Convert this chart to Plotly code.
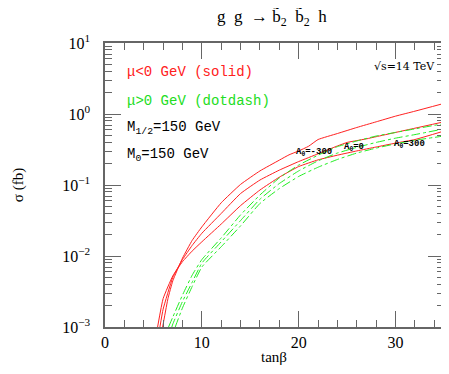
import plotly.graph_objects as go

# red solid curves (mu < 0)
tb_m300 = [5.95, 6.5, 7, 8, 9, 10, 12, 14, 16, 18, 19, 20, 21, 22, 24, 26, 28, 30, 32, 35]
sig_m300 = [0.001, 0.00251, 0.00447, 0.00933, 0.0166, 0.0257, 0.0562, 0.102, 0.158, 0.224,
            0.266, 0.302, 0.350, 0.437, 0.531, 0.646, 0.776, 0.933, 1.096, 1.41]
tb_0 = [5.67, 6, 7, 8, 9, 10, 12, 14, 16, 18, 20, 22, 24, 25, 26, 27, 28, 30, 32, 35]
sig_0 = [0.001, 0.00178, 0.00501, 0.00891, 0.0141, 0.0209, 0.0398, 0.0759, 0.1175, 0.162,
         0.214, 0.275, 0.355, 0.398, 0.422, 0.447, 0.479, 0.550, 0.631, 0.776]
tb_p300 = [5.43, 6, 7, 8, 9, 10, 12, 14, 16, 18, 20, 22, 24, 26, 28, 30, 32, 35]
sig_p300 = [0.001, 0.00251, 0.00525, 0.00832, 0.01175, 0.01585, 0.0282, 0.0513, 0.0851, 0.129,
            0.182, 0.226, 0.263, 0.302, 0.343, 0.389, 0.437, 0.575]

# green dotdash curves (mu > 0)
tb_g1 = [6.56, 7, 8, 9, 10, 12, 14, 16, 18, 20, 22, 24, 26, 28, 30, 32, 35]
sig_g1 = [0.001, 0.00138, 0.00282, 0.00537, 0.00891, 0.0180, 0.0380, 0.0724, 0.126, 0.191,
          0.263, 0.347, 0.417, 0.490, 0.550, 0.617, 0.733]
tb_g2 = [6.9, 7, 8, 9, 10, 12, 14, 16, 18, 20, 22, 24, 26, 28, 30, 32, 35]
sig_g2 = [0.001, 0.0011, 0.00229, 0.00427, 0.00794, 0.01585, 0.0316, 0.0631, 0.105, 0.158,
          0.219, 0.282, 0.339, 0.398, 0.457, 0.513, 0.617]
tb_g3 = [7.25, 8, 9, 10, 12, 14, 16, 18, 20, 22, 24, 26, 28, 30, 32, 35]
sig_g3 = [0.001, 0.00186, 0.00372, 0.0070, 0.0135, 0.0266, 0.0550, 0.0891, 0.132, 0.178,
          0.229, 0.282, 0.331, 0.380, 0.427, 0.490]

y_tickvals = [0.001, 0.01, 0.1, 1, 10]
y_ticktext = ['10<sup>−3</sup>', '10<sup>−2</sup>', '10<sup>−1</sup>', '10<sup>0</sup>', '10<sup>1</sup>']
x_tickvals = [0, 10, 20, 30]

# page body has an 8px margin, so the figure is placed at (8, 8) in the window
OFF = 8
W, H = 441, 358
L, R, T, B = 105 - OFF, 444.5 - OFF, 43 - OFF, 327 - OFF


def px(x, y):
    # window pixel -> paper coords
    return (x - OFF - L) / (R - L), (B - (y - OFF)) / (B - T)


fig = go.Figure()

for xs, ys in [(tb_m300, sig_m300), (tb_0, sig_0), (tb_p300, sig_p300)]:
    fig.add_trace(go.Scatter(x=xs, y=ys, mode='lines',
                             line=dict(color='#ff2020', width=1, shape='spline', smoothing=0.4),
                             showlegend=False))
for xs, ys in [(tb_g1, sig_g1), (tb_g2, sig_g2), (tb_g3, sig_g3)]:
    fig.add_trace(go.Scatter(x=xs, y=ys, mode='lines',
                             line=dict(color='#22ee22', width=1, dash='dashdot',
                                       shape='spline', smoothing=0.4),
                             showlegend=False))
# empty trace so the mirrored frame axes (top / right) get drawn
fig.add_trace(go.Scatter(x=[None], y=[None], xaxis='x2', yaxis='y2', showlegend=False))

axcol = '#666666'
xcommon = dict(range=[0, 35], tickvals=x_tickvals, ticks='inside', ticklen=16,
               tickcolor=axcol, tickwidth=1.2, showline=True, linecolor=axcol, linewidth=1.5,
               showgrid=False, zeroline=False, automargin=False,
               minor=dict(ticks='inside', ticklen=7, dtick=2, tick0=0, tickcolor=axcol, showgrid=False),
               tickfont=dict(family='Liberation Serif', size=16, color='black'))
ycommon = dict(type='log', range=[-3, 1], tickvals=y_tickvals, ticktext=y_ticktext,
               ticks='inside', ticklen=16, tickcolor=axcol, tickwidth=1.2, showline=True,
               linecolor=axcol, linewidth=1.5, showgrid=False, zeroline=False, automargin=False,
               minor=dict(ticks='inside', ticklen=7, dtick='D1', tickcolor=axcol, showgrid=False),
               tickfont=dict(family='Liberation Serif', size=16, color='black'))

fig.update_layout(
    xaxis=dict(**xcommon),
    yaxis=dict(**ycommon, ticklabelstandoff=10),
    xaxis2=dict(**xcommon, overlaying='x', side='top', showticklabels=False, matches='x'),
    yaxis2=dict(**ycommon, overlaying='y', side='right', showticklabels=False, matches='y'),
)

mono = 'Liberation Mono'
serif = 'Liberation Serif'
ann = []


def note(text, x, y, size, color='black', xanchor='left', family=mono, angle=0):
    ax, ay = px(x, y)
    ann.append(dict(text=text, x=ax, y=ay, xref='paper', yref='paper', showarrow=False,
                    xanchor=xanchor, yanchor='middle', textangle=angle,
                    font=dict(family=family, size=size, color=color)))


note('μ&lt;0 GeV (solid)', 125, 72, 14, color='#ff2020')
note('μ&gt;0 GeV (dotdash)', 125, 101, 14, color='#22dd22')
note('M<sub>1/2</sub>=150 GeV', 125, 128, 14)
note('M<sub>0</sub>=150 GeV', 125, 155, 14)
note('√s=14 TeV', 437, 66, 11, xanchor='right', family='DejaVu Serif')
note('<b>A<sub>0</sub>=-300</b>', 294, 152, 9)
note('<b>A<sub>0</sub>=0</b>', 342, 147, 9)
note('<b>A<sub>0</sub>=300</b>', 392, 144, 9)
note('g  g  → b\u0303<sub>2</sub>  b\u0303<sub>2</sub>  h', 272, 18, 17,
     xanchor='center', family=serif)
note('σ (fb)', 18, 185, 15, xanchor='center', family=serif, angle=-90)
note('tanβ', 274, 357, 15, xanchor='center', family=serif)

fig.update_layout(width=W, height=H, margin=dict(l=L, r=W - R, t=T, b=H - B),
                  plot_bgcolor='white', paper_bgcolor='white', annotations=ann)

fig.write_html("out.html")
